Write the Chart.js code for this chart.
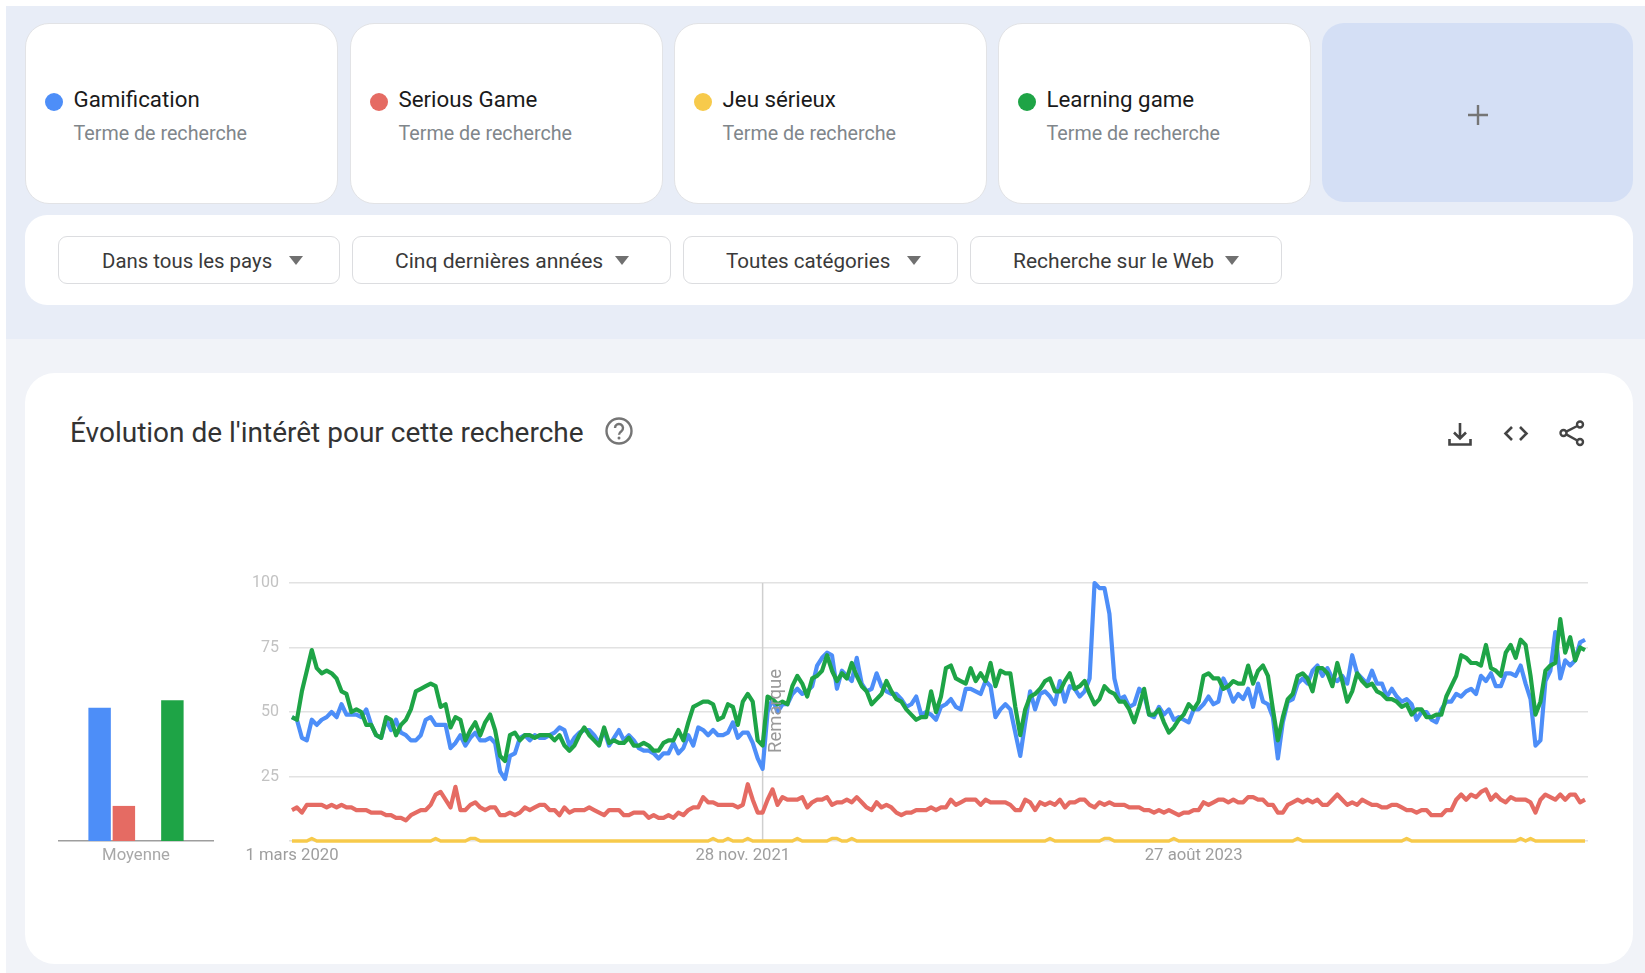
<!DOCTYPE html>
<html lang="fr">
<head>
<meta charset="utf-8">
<title>Tendances</title>
<script src="https://cdn.jsdelivr.net/npm/chart.js@4"></script>
<style>
  html, body { margin: 0; padding: 0; background: #fff; }
  body { width: 1645px; height: 973px; position: relative; overflow: hidden; font-family: Roboto, sans-serif; }
  .abs { position: absolute; }
  #band { left: 6px; top: 6px; width: 1639px; height: 333px; background: #e8edf7; }
  #lower { left: 6px; top: 339px; width: 1639px; height: 634px; background: #f1f3f8; }
  .term { top: 23px; width: 313px; height: 181px; box-sizing: border-box; background: #fff; border: 1px solid #e2e3e6; border-radius: 24px; }
  .dot { position: absolute; left: 19px; top: 69px; width: 18px; height: 18px; border-radius: 50%; }
  .name { position: absolute; left: 47.5px; top: 60px; font-size: 22.3px; line-height: 30px; color: #1a1a1a; white-space: nowrap; }
  .sub { position: absolute; left: 47.5px; top: 98px; font-size: 19.7px; line-height: 24px; color: #80868b; white-space: nowrap; }
  #add { left: 1322px; top: 23px; width: 311px; height: 179px; background: #d4dff5; border-radius: 22px; }
  #plus { left: 1468px; top: 105px; width: 20px; height: 20px; }
  #filters { left: 25px; top: 215px; width: 1608px; height: 90px; background: #fff; border-radius: 22px; }
  .filter { top: 236px; height: 48px; box-sizing: border-box; background: #fff; border: 1px solid #dcdde0; border-radius: 9px; }
  .ftext { position: absolute; line-height: 26px; color: #3a3a3a; white-space: nowrap; top: 11px; }
  .arrow { position: absolute; top: 19px; width: 0; height: 0; border-left: 7px solid transparent; border-right: 7px solid transparent; border-top: 9px solid #707070; }
  #card { left: 25px; top: 373px; width: 1608px; height: 591px; background: #fff; border-radius: 30px; }
  #title { left: 70px; top: 416px; font-size: 28px; line-height: 34px; color: #333; white-space: nowrap; }
  #barWrap { left: 30px; top: 570px; width: 210px; height: 300px; }
  #lineWrap { left: 230px; top: 570px; width: 1370px; height: 300px; }
  #note { left: 765px; top: 753px; font-size: 18.5px; line-height: 20px; color: #999; white-space: nowrap; transform-origin: 0 0; transform: rotate(-90deg); }
</style>
</head>
<body>
<div class="abs" id="band"></div>
<div class="abs" id="lower"></div>

<div class="abs term" style="left:25px"><span class="dot" style="background:#4d8ef8"></span><span class="name">Gamification</span><span class="sub">Terme de recherche</span></div>
<div class="abs term" style="left:350px"><span class="dot" style="background:#e56b63"></span><span class="name">Serious Game</span><span class="sub">Terme de recherche</span></div>
<div class="abs term" style="left:674px"><span class="dot" style="background:#f7ca4b"></span><span class="name">Jeu sérieux</span><span class="sub">Terme de recherche</span></div>
<div class="abs term" style="left:998px"><span class="dot" style="background:#1ea446"></span><span class="name">Learning game</span><span class="sub">Terme de recherche</span></div>
<div class="abs" id="add"></div>
<svg class="abs" id="plus" viewBox="0 0 20 20"><path d="M10 0V20M0 10H20" stroke="#757575" stroke-width="2.4"/></svg>

<div class="abs" id="filters"></div>
<div class="abs filter" style="left:58px;width:282px"><span class="ftext" style="left:43px;font-size:20.4px">Dans tous les pays</span><span class="arrow" style="left:230px"></span></div>
<div class="abs filter" style="left:352px;width:319px"><span class="ftext" style="left:42px;font-size:21.1px">Cinq dernières années</span><span class="arrow" style="left:262px"></span></div>
<div class="abs filter" style="left:683px;width:275px"><span class="ftext" style="left:42px;font-size:20.6px">Toutes catégories</span><span class="arrow" style="left:223px"></span></div>
<div class="abs filter" style="left:970px;width:312px"><span class="ftext" style="left:42px;font-size:21px">Recherche sur le Web</span><span class="arrow" style="left:254px"></span></div>

<div class="abs" id="card"></div>
<div class="abs" id="title">Évolution de l'intérêt pour cette recherche</div>
<svg class="abs" style="left:604px;top:416px" width="30" height="30" viewBox="0 0 30 30">
  <circle cx="15" cy="15" r="12.5" fill="none" stroke="#757575" stroke-width="2.4"/>
  <path d="M11 12a4 4 0 1 1 6.4 3.2c-1.5 1.1-2.4 1.8-2.4 3.6" fill="none" stroke="#757575" stroke-width="2.4"/>
  <circle cx="15" cy="22" r="1.5" fill="#757575"/>
</svg>
<svg class="abs" style="left:1446px;top:420px" width="28" height="28" viewBox="0 0 28 28" fill="none" stroke="#444" stroke-width="2.6">
  <path d="M14 3V18M8 12.5L14 18.5L20 12.5"/>
  <path d="M3.5 19V24.5H24.5V19"/>
</svg>
<svg class="abs" style="left:1502px;top:420px" width="28" height="28" viewBox="0 0 28 28" fill="none" stroke="#444" stroke-width="2.6">
  <path d="M10 7L3.5 13.5L10 20M18 7L24.5 13.5L18 20"/>
</svg>
<svg class="abs" style="left:1558px;top:419px" width="28" height="28" viewBox="0 0 28 28" fill="none" stroke="#444" stroke-width="2.4">
  <circle cx="22" cy="5.5" r="3"/><circle cx="5.5" cy="14" r="3"/><circle cx="22" cy="23" r="3"/>
  <path d="M8.2 12.6L19.3 7M8.2 15.4L19.3 21.5"/>
</svg>

<div class="abs" id="barWrap"><canvas id="avgChart" width="210" height="300"></canvas></div>
<div class="abs" id="lineWrap"><canvas id="trendChart" width="1370" height="300"></canvas></div>
<div class="abs" id="note">Remarque</div>

<script>
const terms = ['Gamification', 'Serious Game', 'Jeu sérieux', 'Learning game'];
const colors = ['#4d8ef8', '#e56b63', '#f7ca4b', '#1ea446'];
const lineWidths = [4.2, 4.2, 3.4, 4.2];

// weekly values, one row = 10 weeks
const gamification = [
  48,47,40,39,47,45,47,48,50,48,
  53,49,49,49,48,51,45,41,40,47,
  43,47,42,41,39,39,41,47,48,45,
  45,45,36,38,41,37,40,42,39,39,
  40,38,27,24,33,34,40,41,39,41,
  40,40,41,42,44,43,37,40,42,43,
  43,41,38,43,37,40,43,39,41,39,
  36,35,35,34,32,34,34,38,34,36,
  41,37,44,43,41,43,41,41,42,46,
  40,42,42,38,32,28,50,55,50,53,
  53,57,59,57,58,60,68,71,73,72,
  59,66,64,62,71,61,58,59,65,60,
  58,57,57,55,52,53,56,49,50,49,
  47,52,53,55,52,51,59,59,58,57,
  62,60,48,51,53,51,42,33,46,58,
  51,57,58,56,53,62,54,60,59,56,
  58,63,100,98,98,88,63,55,56,52,
  53,59,57,49,48,52,49,51,47,48,
  47,46,51,51,53,56,53,54,63,59,
  54,57,55,59,52,61,54,53,48,32,
  46,54,55,61,63,61,66,68,64,67,
  63,62,64,61,72,65,63,61,66,61,
  61,56,59,56,54,55,53,47,50,50,
  47,46,51,54,54,57,56,58,59,57,
  64,62,65,60,60,65,65,64,68,61,
  55,37,39,62,66,81,63,70,68,70,
  77,78
];
const seriousGame = [
  12,13,11,14,14,14,14,13,14,13,
  14,13,13,12,12,12,11,11,11,10,
  10,9,9,8,10,11,12,12,14,18,
  19,16,13,21,12,12,14,15,13,12,
  13,13,10,10,11,10,11,13,12,13,
  14,14,12,12,10,13,11,12,12,12,
  13,12,11,10,12,12,12,10,10,11,
  11,11,9,10,9,9,10,9,11,10,
  12,13,13,17,15,15,14,14,14,14,
  13,14,22,16,11,11,16,20,14,17,
  16,16,16,17,13,15,16,16,17,14,
  15,15,16,15,17,15,13,12,15,13,
  14,13,11,10,11,11,12,12,12,13,
  12,13,13,16,14,15,16,16,16,14,
  16,15,15,15,15,14,12,12,16,15,
  12,15,14,15,14,16,13,15,15,16,
  16,14,13,15,14,15,14,14,14,13,
  13,13,12,12,11,12,11,12,11,10,
  11,11,12,12,15,14,15,16,16,15,
  16,15,15,17,17,16,16,14,14,11,
  11,14,15,16,15,16,15,16,14,14,
  16,18,16,14,15,14,16,15,14,14,
  13,13,14,14,13,12,12,11,12,12,
  10,10,10,12,12,16,18,16,18,17,
  19,20,16,18,16,15,17,16,16,16,
  15,11,16,18,17,16,18,16,18,18,
  15,16
];
const jeuSerieux = [
  0,0,0,0,1,0,0,0,0,0,
  0,0,0,0,0,0,0,0,0,0,
  0,0,0,0,0,0,0,0,0,1,
  0,0,0,0,0,0,1,1,0,0,
  0,0,0,0,0,0,0,0,0,0,
  0,0,0,0,0,0,0,0,0,0,
  0,0,0,0,0,0,0,0,0,0,
  0,0,0,0,0,0,0,0,0,0,
  0,0,0,0,0,1,0,0,1,0,
  0,0,1,0,0,0,0,0,0,0,
  0,0,1,0,0,0,0,0,0,1,
  1,0,0,1,0,0,0,0,0,0,
  0,0,0,0,0,0,0,0,0,0,
  0,0,0,0,0,0,0,0,0,0,
  0,0,0,0,0,0,0,0,0,0,
  0,0,0,1,0,0,0,0,0,0,
  0,0,0,0,1,1,0,0,0,0,
  0,0,0,0,0,0,0,0,1,0,
  0,0,0,0,0,0,0,0,0,0,
  0,0,0,0,0,0,0,0,0,0,
  0,0,0,1,0,0,0,0,0,0,
  0,0,0,0,0,0,0,0,0,0,
  0,0,0,0,0,1,0,0,0,0,
  0,0,0,0,0,0,0,0,0,0,
  0,0,0,0,0,0,0,0,1,0,
  1,0,0,0,0,0,0,0,0,0,
  0,0
];
const learningGame = [
  48,47,58,66,74,67,65,66,65,63,
  58,57,50,51,50,45,45,41,40,48,
  47,41,45,47,51,58,59,60,61,60,
  52,53,44,48,47,39,43,46,41,46,
  49,43,33,31,41,42,39,41,41,40,
  41,41,41,39,41,37,35,37,41,44,
  41,39,37,44,38,39,38,38,40,37,
  37,38,37,35,35,38,39,39,43,39,
  46,52,53,54,54,53,47,48,53,52,
  45,54,57,54,39,37,56,55,53,54,
  53,60,64,61,56,63,64,66,72,66,
  62,65,63,69,64,60,58,53,55,57,
  62,58,55,54,51,49,47,48,48,58,
  50,56,67,68,63,62,61,67,62,65,
  62,69,60,66,65,65,52,41,51,56,
  57,59,62,63,58,58,62,65,59,60,
  62,57,53,55,60,58,57,54,54,51,
  46,52,59,49,49,51,46,42,44,47,
  49,53,51,54,64,65,63,63,59,60,
  62,61,61,68,61,66,68,64,51,39,
  48,55,57,64,65,63,58,67,67,65,
  60,69,62,54,58,65,62,60,61,58,
  57,55,55,54,52,53,49,51,51,48,
  48,49,49,56,60,64,72,71,69,69,
  68,76,67,66,64,73,76,71,78,76,
  64,49,54,66,68,69,86,73,79,70,
  75,74
];

const averages = [51.6, 13.6, 0, 54.6];
const avgLabel = ['Moyenne'];

const yTicks = [25, 50, 75, 100];
const dateTicks = { 0: '1 mars 2020', 91: '28 nov. 2021', 182: '27 août 2023' };
const noteWeek = 95;

const series = [gamification, seriousGame, jeuSerieux, learningGame];
const yFont = { family: 'Roboto', size: 16 };
const xFont = { family: 'Roboto', size: 16.7 };

// vertical line of the "Remarque" note
const noteLine = {
  id: 'noteLine',
  beforeDatasetsDraw(chart) {
    const x = chart.scales.x.getPixelForValue(noteWeek);
    const area = chart.chartArea;
    const c = chart.ctx;
    c.save();
    c.strokeStyle = '#cfcfcf';
    c.lineWidth = 1.5;
    c.beginPath();
    c.moveTo(x, area.top);
    c.lineTo(x, area.bottom);
    c.stroke();
    c.restore();
  }
};

new Chart(document.getElementById('trendChart'), {
  type: 'line',
  data: {
    datasets: series.map((values, i) => ({
      label: terms[i],
      data: values.map((v, week) => ({ x: week, y: v })),
      borderColor: colors[i],
      borderWidth: lineWidths[i],
      borderJoinStyle: 'round',
      pointRadius: 0,
      tension: 0,
      clip: false,
      order: 4 - i
    }))
  },
  options: {
    responsive: false,
    animation: false,
    layout: { autoPadding: false, padding: { top: 13, right: 12, left: 0, bottom: 0 } },
    plugins: { legend: { display: false }, tooltip: { enabled: false } },
    scales: {
      x: {
        type: 'linear',
        min: -0.6,
        max: 261.6,
        afterBuildTicks(scale) {
          scale.ticks = Object.keys(dateTicks).map(k => ({ value: Number(k) }));
        },
        afterFit(scale) { scale.height = 29; },
        grid: { display: false },
        border: { display: false },
        ticks: {
          autoSkip: false,
          maxRotation: 0,
          padding: -3,
          color: '#9e9e9e',
          font: xFont,
          callback: v => dateTicks[v]
        }
      },
      y: {
        min: 0,
        max: 100,
        afterBuildTicks(scale) {
          scale.ticks = [0].concat(yTicks).map(v => ({ value: v }));
        },
        afterFit(scale) { scale.width = 59; },
        // ticks.padding also pushes the plot top down, so the gap comes from a hidden tick mark
        grid: { color: '#e2e2e2', lineWidth: 1.5, tickColor: 'transparent', tickLength: 10 },
        border: { display: false },
        ticks: {
          padding: 0,
          color: '#c2c2c2',
          font: yFont,
          callback: v => (v === 0 ? '' : v)
        }
      }
    }
  },
  plugins: [noteLine]
});

new Chart(document.getElementById('avgChart'), {
  type: 'bar',
  data: {
    labels: avgLabel,
    datasets: averages.map((v, i) => ({
      label: terms[i],
      data: [v],
      backgroundColor: colors[i],
      categoryPercentage: 0.63,
      barPercentage: 0.926
    }))
  },
  options: {
    responsive: false,
    animation: false,
    layout: { autoPadding: false, padding: { top: 13, right: 27, left: 29, bottom: 0 } },
    plugins: { legend: { display: false }, tooltip: { enabled: false } },
    scales: {
      x: {
        afterFit(scale) { scale.height = 29; },
        grid: { display: false, drawTicks: false },
        border: { display: true, color: '#9e9e9e', width: 1.5 },
        ticks: { padding: 5, color: '#a8a8a8', font: xFont }
      },
      y: { display: false, min: 0, max: 100 }
    }
  }
});
</script>
</body>
</html>
